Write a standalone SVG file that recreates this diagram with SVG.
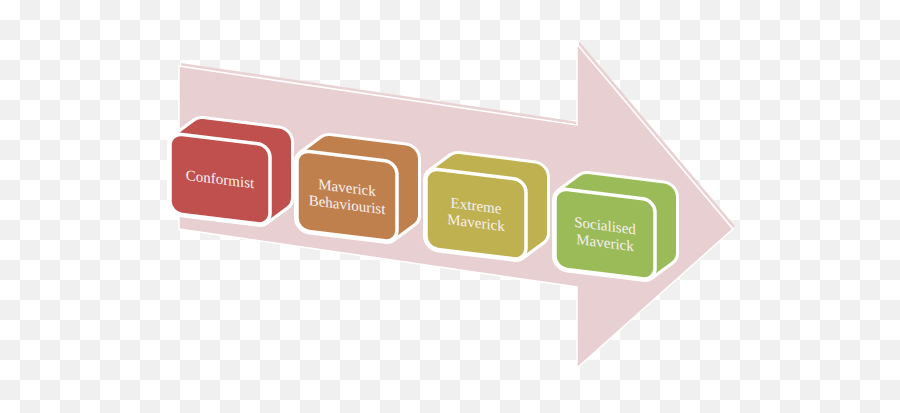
<svg xmlns="http://www.w3.org/2000/svg" width="900" height="413" viewBox="0 0 900 413">
  <defs>
    <pattern id="checker" x="0" y="0" width="40" height="40" patternUnits="userSpaceOnUse">
      <rect width="40" height="40" fill="#ffffff"/>
      <rect x="20" y="0" width="20" height="20" fill="#f0f0f0"/>
      <rect x="0" y="20" width="20" height="20" fill="#f0f0f0"/>
    </pattern>
    <path id="hull" d="M12,12 L33,-6 L109,-6 L109,50 L88,68 L12,68 Z"/>
  </defs>
  <style>
    .hw { fill: #ffffff; stroke: #ffffff; stroke-width: 30; stroke-linejoin: round; }
    .face { stroke: #ffffff; stroke-width: 3.5; }
    .lbl { font-family: "Liberation Serif", "Times New Roman", serif; font-size: 15px; fill: #f8f0f0; text-anchor: middle; }
    .c1 { fill: #c0504d; stroke: #c0504d; }
    .c2 { fill: #c0804e; stroke: #c0804e; }
    .c3 { fill: #bfb050; stroke: #bfb050; }
    .c4 { fill: #9bbb59; stroke: #9bbb59; }
    .hc { stroke-width: 24; stroke-linejoin: round; }
  </style>

  <rect x="0" y="0" width="900" height="413" fill="url(#checker)"/>

  <g id="arrow">
    <polygon points="181,63 579,122 579,41 735,226 579,365 579,284 181,226" fill="#e9d2d4"/>
    <polygon points="179,66 577,125 577,44 733,229 577,368 577,287 179,229" fill="#e8d0d2" stroke="#ffffff" stroke-width="1.5" stroke-linejoin="miter"/>
  </g>

  <g id="connectors"></g>

  <g id="node-conformist" transform="translate(170,133) skewY(7)">
    <use href="#hull" class="hw"/>
    <use href="#hull" class="c1 hc"/>
    <rect x="0" y="0" width="100" height="80" rx="12" class="c1 face" style="stroke:#ffffff"/>
    <text x="50" y="45" class="lbl">Conformist</text>
  </g>

  <g id="node-maverick-behaviourist" transform="translate(297,150) skewY(7)">
    <use href="#hull" class="hw"/>
    <use href="#hull" class="c2 hc"/>
    <rect x="0" y="0" width="100" height="80" rx="12" class="c2 face" style="stroke:#ffffff"/>
    <text x="50" y="36.5" class="lbl">Maverick</text>
    <text x="50" y="53.5" class="lbl">Behaviourist</text>
  </g>

  <g id="node-extreme-maverick" transform="translate(426,168) skewY(7)">
    <use href="#hull" class="hw"/>
    <use href="#hull" class="c3 hc"/>
    <rect x="0" y="0" width="100" height="80" rx="12" class="c3 face" style="stroke:#ffffff"/>
    <text x="50" y="36.5" class="lbl">Extreme</text>
    <text x="50" y="53.5" class="lbl">Maverick</text>
  </g>

  <g id="node-socialised-maverick" transform="translate(555,188) skewY(7)">
    <use href="#hull" class="hw"/>
    <use href="#hull" class="c4 hc"/>
    <rect x="0" y="0" width="100" height="80" rx="12" class="c4 face" style="stroke:#ffffff"/>
    <text x="50" y="36.5" class="lbl">Socialised</text>
    <text x="50" y="53.5" class="lbl">Maverick</text>
  </g>
</svg>
